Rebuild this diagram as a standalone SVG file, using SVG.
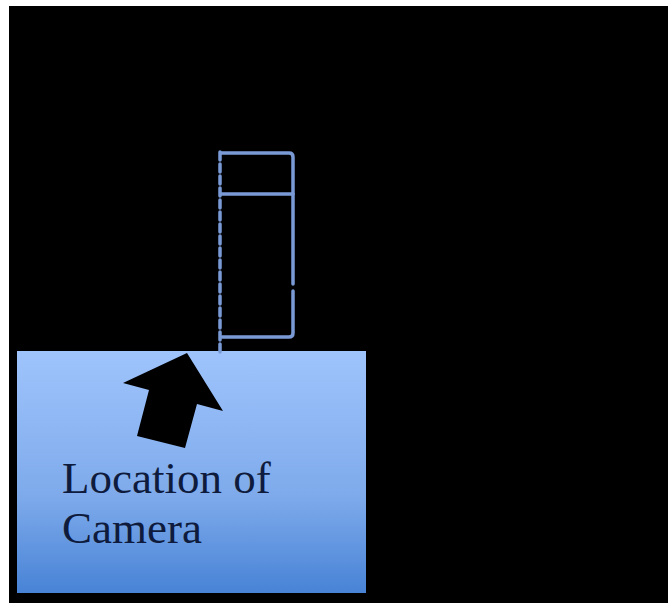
<svg xmlns="http://www.w3.org/2000/svg" width="668" height="603" viewBox="0 0 668 603">
<defs>
<linearGradient id="bg" x1="0" y1="0" x2="0" y2="1">
<stop offset="0" stop-color="#9FC4FC"/>
<stop offset="0.6" stop-color="#7EAAEB"/>
<stop offset="1" stop-color="#4883D6"/>
</linearGradient>
</defs>
<style>
.ln{fill:none;stroke:#7A9AD6;stroke-width:3.5;stroke-linecap:round}
.lbl{font-family:"Liberation Serif",serif;font-size:45px;fill:#0E1B3C}
</style>
<rect x="0" y="0" width="668" height="603" fill="#fff"/>
<rect x="9" y="6" width="659" height="597" fill="#000"/>
<g id="camera-box">
<rect x="17" y="351" width="349" height="242" fill="url(#bg)"/>
<text class="lbl" x="62" y="493">Location of</text>
<text class="lbl" x="62" y="543">Camera</text>
</g>
<g id="arrow">
<polygon points="187,353 223,411 197,404 185,448 137,436 149,390 123,383" fill="#000"/>
</g>
<g id="structure">
<path class="ln" d="M221,153 H289 Q293,153 293,157 V284 M293,291 V333 Q293,337 289,337 H222"/>
<line class="ln" x1="221" y1="194" x2="293" y2="194"/>
<line class="ln" x1="220" y1="152" x2="220" y2="352" stroke-dasharray="8,4" stroke-linecap="butt"/>
</g>
</svg>
